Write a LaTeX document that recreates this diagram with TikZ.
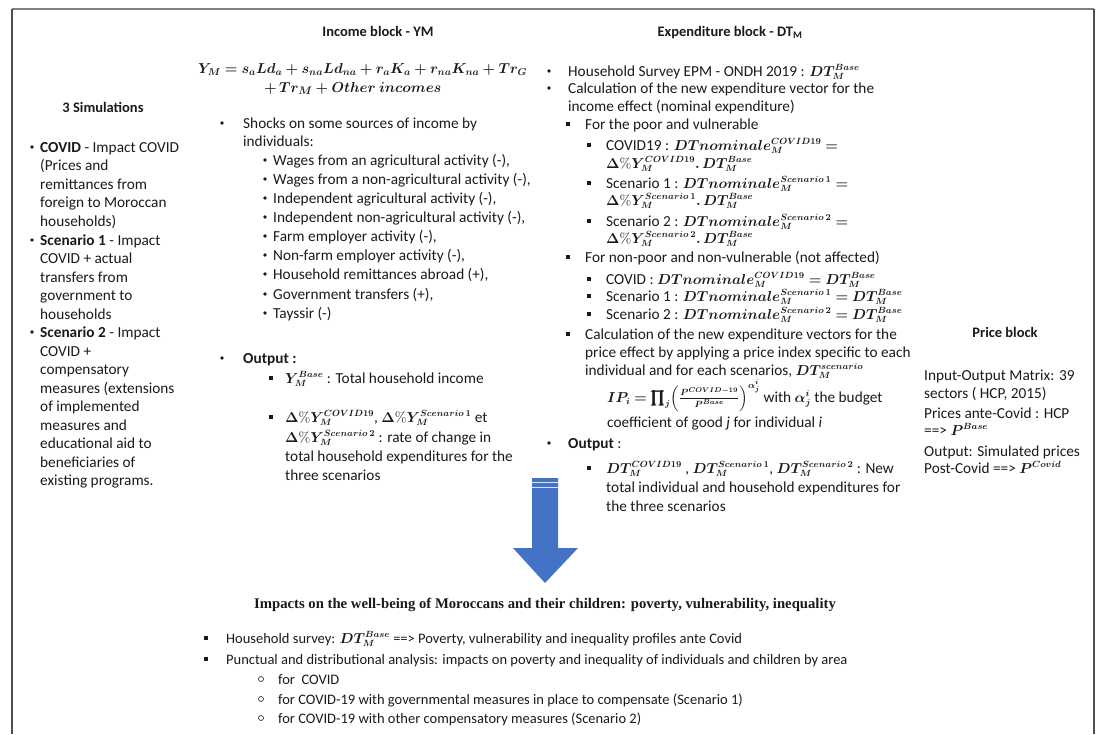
\documentclass[tikz,border=0pt]{standalone}
\usepackage{amsmath}
\usepackage{bm}
\usepackage[no-math]{fontspec}
\setmainfont{Carlito}
\newfontfamily\timesf{Liberation Serif}
\definecolor{txtc}{HTML}{1A1A1A}
\definecolor{arrowblue}{HTML}{4472C4}
\definecolor{framegray}{HTML}{7F7F7F}
\definecolor{sidegray}{HTML}{505050}
\tikzset{
  txt/.style={anchor=base west, inner sep=0pt, text=txtc, font=\fontsize{15.3}{17}\selectfont},
  btxt/.style={anchor=base west, inner sep=0pt, text=txtc, font=\fontsize{14.5}{16}\selectfont},
  ttl/.style={anchor=base, inner sep=0pt, text=txtc, font=\fontsize{14.5}{16}\selectfont\bfseries},
  dotb/.style={circle, fill=txtc, inner sep=0pt, minimum size=3.8pt},
  sqb/.style={rectangle, fill=txtc, inner sep=0pt, minimum size=4.4pt},
  ringb/.style={circle, draw=txtc, line width=0.6pt, inner sep=0pt, minimum size=5pt},
}
\newcommand\Tl[4]{\node[txt] (#1) at (#2,#3+5) {#4};}
\newcommand\Bl[4]{\node[btxt] (#1) at (#2,#3+5) {#4};}
\newcommand\mth[1]{{\fontsize{13.3}{15}\selectfont$\bm{#1}$}}
\begin{document}
\begin{tikzpicture}[x=1pt,y=-1pt]
\useasboundingbox (0,0) rectangle (1099,734);
% frame
\draw[framegray, line width=2pt] (12,9) -- (1094,9);
\draw[sidegray, line width=1.5pt] (12,9) -- (12,734);
\draw[sidegray, line width=1.5pt] (1094,9) -- (1094,734);

% ---------- titles ----------
\node[ttl] (tinc) at (378,36) {Income block - YM};
\node[ttl] (texp) at (730,36) {Expenditure block - DT\textsubscript{M}};
\node[ttl] (tsim) at (103,112) {3 Simulations};
\node[ttl] (tprice) at (1005,337) {Price block};

% ---------- simulations ----------
\node[dotb] (sb1) at (32,147) {};
\node[dotb] (sb2) at (32,240) {};
\node[dotb] (sb3) at (32,332) {};
\Tl{s1}{40}{147}{\textbf{COVID} - Impact COVID}
\Tl{s2}{40}{165}{(Prices and}
\Tl{s3}{40}{184}{remittances from}
\Tl{s4}{40}{202}{foreign to Moroccan}
\Tl{s5}{40}{221}{households)}
\Tl{s6}{40}{240}{\textbf{Scenario 1} - Impact}
\Tl{s7}{40}{258}{COVID + actual}
\Tl{s8}{40}{277}{transfers from}
\Tl{s9}{40}{295}{government to}
\Tl{s10}{40}{314}{households}
\Tl{s11}{40}{332}{\textbf{Scenario 2} - Impact}
\Tl{s12}{40}{351}{COVID +}
\Tl{s13}{40}{369}{compensatory}
\Tl{s14}{40}{388}{measures (extensions}
\Tl{s15}{40}{406}{of implemented}
\Tl{s16}{40}{425}{measures and}
\Tl{s17}{40}{443}{educational aid to}
\Tl{s18}{40}{462}{beneficiaries of}
\Tl{s19}{40}{480}{existing programs.}

% ---------- income block ----------
\node[txt, font=\fontsize{14}{16}\selectfont] (eq1) at (198,73) {$\bm{Y_M = s_aLd_a + s_{na}Ld_{na} + r_aK_a + r_{na}K_{na} + Tr_G}$};
\node[txt, font=\fontsize{15}{17}\selectfont] (eq2) at (264,92) {$\bm{+\,Tr_M + Other\ incomes}$};

\node[dotb] (ib1) at (222,123) {};
\Tl{i1}{243}{123}{Shocks on some sources of income by}
\Tl{i2}{243}{141}{individuals:}
\node[dotb] (ic1) at (265,160) {};
\node[dotb] (ic2) at (265,179) {};
\node[dotb] (ic3) at (265,198) {};
\node[dotb] (ic4) at (265,217) {};
\node[dotb] (ic5) at (265,236) {};
\node[dotb] (ic6) at (265,255) {};
\node[dotb] (ic7) at (265,274) {};
\node[dotb] (ic8) at (265,294) {};
\node[dotb] (ic9) at (265,313) {};
\Tl{i3}{273}{160}{Wages from an agricultural activity (-),}
\Tl{i4}{273}{179}{Wages from a non-agricultural activity (-),}
\Tl{i5}{273}{198}{Independent agricultural activity (-),}
\Tl{i6}{273}{217}{Independent non-agricultural activity (-),}
\Tl{i7}{273}{236}{Farm employer activity (-),}
\Tl{i8}{273}{255}{Non-farm employer activity (-),}
\Tl{i9}{273}{274}{Household remittances abroad (+),}
\Tl{i10}{273}{294}{Government transfers (+),}
\Tl{i11}{273}{313}{Tayssir (-)}

\node[dotb] (ib2) at (222,358) {};
\Tl{i12}{243}{358}{\textbf{Output :}}
\node[sqb] (isq1) at (271,378) {};
\Tl{i13}{285}{378}{\mth{Y_M^{Base}} : Total household income}
\node[sqb] (isq2) at (271,417) {};
\Tl{i14}{285}{417}{\mth{\Delta\%Y_M^{COVID19}}, \mth{\Delta\%Y_M^{Scenario\,1}} et}
\Tl{i15}{285}{437}{\mth{\Delta\%Y_M^{Scenario\,2}} : rate of change in}
\Tl{i16}{285}{456}{total household expenditures for the}
\Tl{i17}{285}{475}{three scenarios}

% ---------- expenditure block ----------
\node[dotb] (eb1) at (549,71) {};
\node[dotb] (eb2) at (549,88) {};
\Tl{e1}{568}{71}{Household Survey EPM - ONDH 2019 : \mth{DT_M^{Base}}}
\Tl{e2}{568}{88}{Calculation of the new expenditure vector for the}
\Tl{e3}{568}{106}{income effect (nominal expenditure)}
\node[sqb] (esq1) at (568,124) {};
\Tl{e4}{585}{124}{For the poor and vulnerable}
\node[sqb] (esq2) at (589,145) {};
\node[sqb] (esq3) at (589,183) {};
\node[sqb] (esq4) at (589,221) {};
\Tl{e5}{606}{145}{COVID19 : \mth{DTnominale_M^{COVID19} =}}
\Tl{e6}{606}{163}{\mth{\Delta\%Y_M^{COVID19}.\,DT_M^{Base}}}
\Tl{e7}{606}{183}{Scenario 1 : \mth{DTnominale_M^{Scenario\,1} =}}
\Tl{e8}{606}{200}{\mth{\Delta\%Y_M^{Scenario\,1}.\,DT_M^{Base}}}
\Tl{e9}{606}{221}{Scenario 2 : \mth{DTnominale_M^{Scenario\,2} =}}
\Tl{e10}{606}{238}{\mth{\Delta\%Y_M^{Scenario\,2}.\,DT_M^{Base}}}
\node[sqb] (esq5) at (568,257) {};
\Tl{e11}{585}{257}{For non-poor and non-vulnerable (not affected)}
\node[sqb] (esq6) at (589,279) {};
\node[sqb] (esq7) at (589,296) {};
\node[sqb] (esq8) at (589,314) {};
\Tl{e12}{606}{279}{COVID : \mth{DTnominale_M^{COVID19} = DT_M^{Base}}}
\Tl{e13}{606}{296}{Scenario 1 : \mth{DTnominale_M^{Scenario\,1} = DT_M^{Base}}}
\Tl{e14}{606}{314}{Scenario 2 : \mth{DTnominale_M^{Scenario\,2} = DT_M^{Base}}}
\node[sqb] (esq9) at (568,334) {};
\Tl{e15}{585}{334}{Calculation of the new expenditure vectors for the}
\Tl{e16}{585}{352}{price effect by applying a price index specific to each}
\Tl{e17}{585}{370}{individual and for each scenarios, \mth{DT_M^{scenario}}}
\Tl{e18}{607}{397}{\mth{IP_i = \prod_j \Bigl(\tfrac{P^{COVID-19}}{P^{Base}}\Bigr)^{\alpha_j^i}} with \mth{\alpha_j^i} the budget}
\Tl{e19}{607}{422}{coefficient of good \textit{j} for individual \textit{i}}
\node[dotb] (eb3) at (549,443) {};
\Tl{e20}{568}{443}{\textbf{Output} :}
\node[sqb] (esq10) at (589,468) {};
\Tl{e21}{606}{468}{\mth{DT_M^{COVID19}} , \mth{DT_M^{Scenario\,1}}, \mth{DT_M^{Scenario\,2}} : New}
\Tl{e22}{606}{487}{total individual and household expenditures for}
\Tl{e23}{606}{506}{the three scenarios}

% ---------- price block ----------
\Tl{p1}{924}{375}{Input-Output Matrix: 39}
\Tl{p2}{924}{393}{sectors ( HCP, 2015)}
\Tl{p3}{924}{413}{Prices ante-Covid : HCP}
\Tl{p4}{924}{430}{==> \mth{P^{Base}}}
\Tl{p5}{924}{451}{Output: Simulated prices}
\Tl{p6}{924}{468}{Post-Covid ==> \mth{P^{Covid}}}

% ---------- arrow ----------
\fill[arrowblue] (532,478) -- (558,478) -- (558,548) -- (578,548) -- (545,583) -- (513,548) -- (532,548) -- cycle;
\draw[white!80!arrowblue, line width=0.8pt] (532,482) -- (558,482);
\draw[white!80!arrowblue, line width=0.8pt] (532,487) -- (558,487);

% ---------- impacts ----------
\node[anchor=base, inner sep=0pt, text=txtc, font=\timesf\fontsize{14.7}{16}\selectfont\bfseries] (imp) at (545,608) {Impacts on the well-being of Moroccans and their children: poverty, vulnerability, inequality};
\node[sqb] (bsq1) at (206,638) {};
\node[sqb] (bsq2) at (206,659) {};
\Bl{b1}{226}{638}{Household survey: \mth{DT_M^{Base}} ==> Poverty, vulnerability and inequality profiles ante Covid}
\Bl{b2}{226}{659}{Punctual and distributional analysis: impacts on poverty and inequality of individuals and children by area}
\node[ringb] (bo1) at (261,679) {};
\node[ringb] (bo2) at (261,699) {};
\node[ringb] (bo3) at (261,718) {};
\Bl{b3}{278}{679}{for~~COVID}
\Bl{b4}{278}{699}{for COVID-19 with governmental measures in place to compensate (Scenario 1)}
\Bl{b5}{278}{718}{for COVID-19 with other compensatory measures (Scenario 2)}
\end{tikzpicture}
\end{document}
